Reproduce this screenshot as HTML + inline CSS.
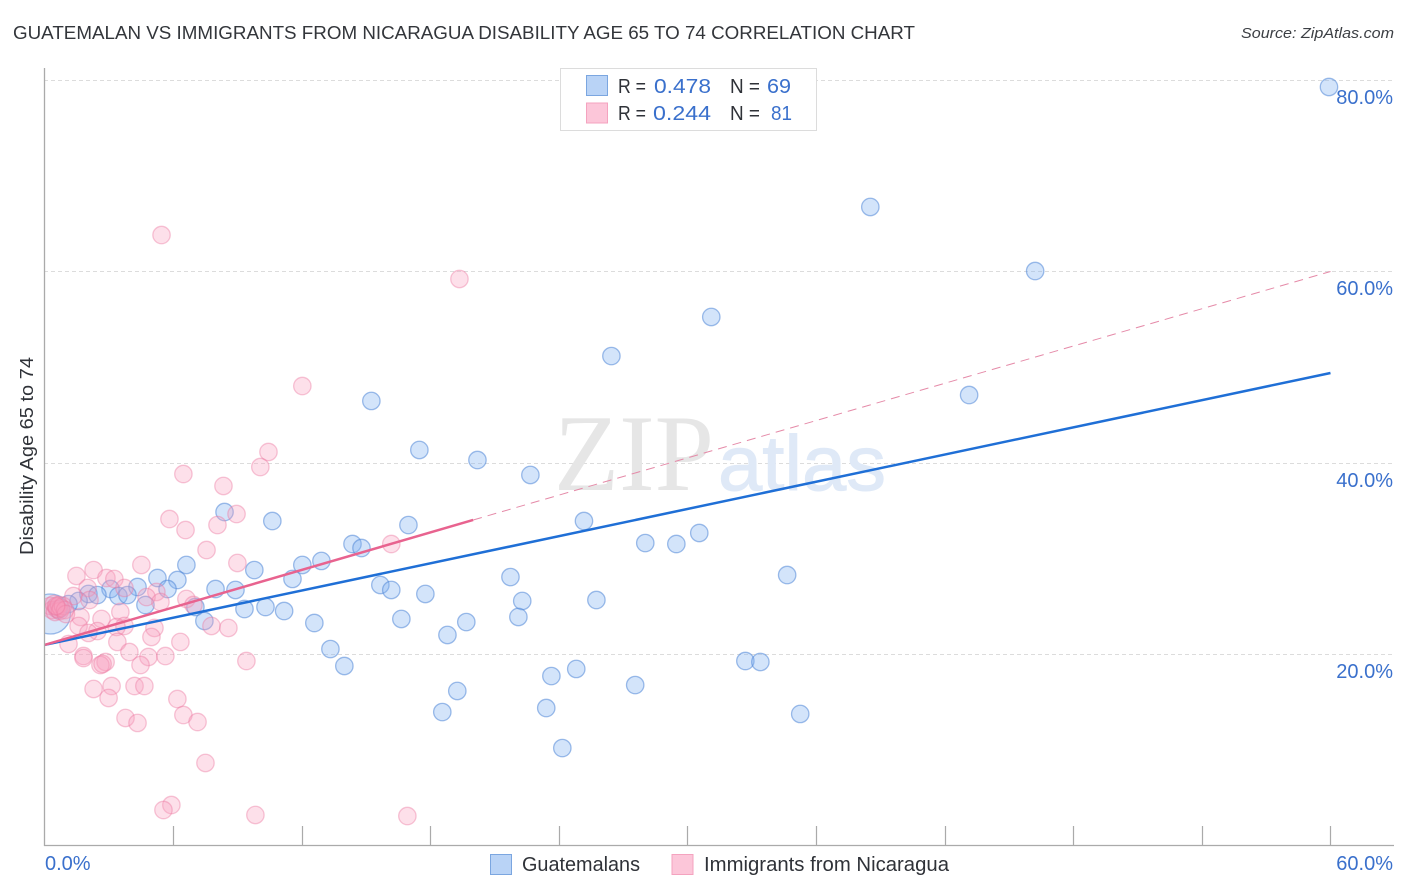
<!DOCTYPE html>
<html lang="en">
<head>
<meta charset="utf-8">
<title>Guatemalan vs Immigrants from Nicaragua Disability Age 65 to 74 Correlation Chart</title>
<style>
html,body{margin:0;padding:0;background:#fff;width:1406px;height:892px;overflow:hidden}
svg{display:block;font-family:"Liberation Sans",sans-serif}
</style>
</head>
<body>
<svg id="chart" xmlns="http://www.w3.org/2000/svg" width="1406" height="892" viewBox="0 0 1406 892">
  <defs><clipPath id="plot-clip"><rect x="45" y="60" width="1361" height="785"/></clipPath></defs>
  <rect x="0" y="0" width="1406" height="892" fill="#fff"/>
  <text x="13" y="39" font-size="18.5" fill="#33363b" textLength="902" lengthAdjust="spacingAndGlyphs">GUATEMALAN VS IMMIGRANTS FROM NICARAGUA DISABILITY AGE 65 TO 74 CORRELATION CHART</text>
  <text x="1241" y="38" font-size="15" font-style="italic" fill="#3c3f44" textLength="153" lengthAdjust="spacingAndGlyphs">Source: ZipAtlas.com</text>
  <g id="grid"></g>
  <g>
    <text x="554" y="490" font-family="'Liberation Serif',serif" font-size="109" fill="#e6e6e6" textLength="160" lengthAdjust="spacingAndGlyphs">ZIP</text>
    <text x="718" y="490" font-size="78" fill="#dfe9f7" stroke="#dfe9f7" stroke-width="1" textLength="168" lengthAdjust="spacingAndGlyphs">atlas</text>
  </g>
  <g id="blue-points" clip-path="url(#plot-clip)"></g>
  <g id="pink-points" clip-path="url(#plot-clip)"></g>
  <g id="trend-lines"></g>
  <g id="axes"></g>
  <text transform="translate(33,456) rotate(-90)" text-anchor="middle" font-size="18" fill="#2f3238" textLength="198" lengthAdjust="spacingAndGlyphs">Disability Age 65 to 74</text>
  <g id="tick-labels"></g>
  <g>
    <rect x="560.5" y="68.5" width="256" height="62" fill="#fff" stroke="#dcdcdc" stroke-width="1"/>
    <rect x="586.5" y="75.5" width="21" height="20" fill="#b9d3f6" stroke="#7ba6e0" stroke-width="1"/>
    <rect x="586.5" y="103" width="21" height="20" fill="#fcc6d9" stroke="#f4a3bf" stroke-width="1"/>
    <g font-size="20">
      <text x="618" y="93" fill="#2f3238" textLength="28" lengthAdjust="spacingAndGlyphs">R =</text>
      <text x="654" y="93" fill="#3a70cc" textLength="57" lengthAdjust="spacingAndGlyphs">0.478</text>
      <text x="730" y="93" fill="#2f3238" textLength="30" lengthAdjust="spacingAndGlyphs">N =</text>
      <text x="767" y="93" fill="#3a70cc" textLength="24" lengthAdjust="spacingAndGlyphs">69</text>
      <text x="618" y="120" fill="#2f3238" textLength="28" lengthAdjust="spacingAndGlyphs">R =</text>
      <text x="653" y="120" fill="#3a70cc" textLength="58" lengthAdjust="spacingAndGlyphs">0.244</text>
      <text x="730" y="120" fill="#2f3238" textLength="30" lengthAdjust="spacingAndGlyphs">N =</text>
      <text x="771" y="120" fill="#3a70cc" textLength="21" lengthAdjust="spacingAndGlyphs">81</text>
    </g>
  </g>
  <g>
    <rect x="490.5" y="854.5" width="21" height="20" fill="#b9d3f6" stroke="#7ba6e0" stroke-width="1"/>
    <text x="522" y="871" font-size="20" fill="#2f3238" textLength="118" lengthAdjust="spacingAndGlyphs">Guatemalans</text>
    <rect x="672" y="854.5" width="21" height="20" fill="#fcc6d9" stroke="#f4a3bf" stroke-width="1"/>
    <text x="704" y="871" font-size="20" fill="#2f3238" textLength="245" lengthAdjust="spacingAndGlyphs">Immigrants from Nicaragua</text>
  </g>
</svg>
<script>
const xTickValues = [0, 6, 12, 18, 24, 30, 36, 42, 48, 54, 60];
const yTickValues = [20, 40, 60, 80];
const yTickLabels = ["20.0%", "40.0%", "60.0%", "80.0%"];
const xEndLabels = ["0.0%", "60.0%"];

const blueX = [59.93,38.53,46.22,31.11,26.45,43.14,15.25,17.49,20.2,22.67,8.4,10.63,25.17,16.98,30.55,28.03,29.48,14.37,14.79,12.92,12.03,6.62,9.79,34.65,21.74,11.57,6.2,5.27,15.67,16.18,4.34,3.08,5.74,7.98,8.91,17.77,2.05,2.47,3.45,3.87,25.75,22.29,1.59,4.71,1.12,7.04,9.33,10.31,11.18,22.11,16.65,19.68,12.59,7.46,18.8,13.34,13.99,32.7,33.4,24.81,23.65,27.56,19.26,18.56,23.41,35.26,24.16,0.65];
const blueY = [79.27,66.74,60.05,55.25,51.17,47.1,46.48,41.36,40.31,38.75,34.88,33.94,33.94,33.52,32.69,31.64,31.54,31.54,31.12,29.77,29.35,29.35,28.82,28.3,28.09,27.89,27.78,27.99,27.26,26.74,27.05,26.84,26.84,26.84,26.74,26.32,26.32,26.21,26.11,26.21,25.69,25.59,25.59,25.17,25.27,24.96,24.75,24.96,24.54,23.92,23.71,23.39,23.29,23.5,22.04,20.57,18.8,19.32,19.22,18.49,17.75,16.81,16.19,13.99,14.41,13.79,10.23,24.7];
const blueLargeX = [0.28];
const blueLargeY = [24.23];

const pinkX = [5.46,19.36,12.03,10.45,10.07,6.48,8.35,8.96,5.83,8.07,6.58,16.18,7.56,9,4.52,2.29,1.49,2.89,3.26,2.01,3.73,5.22,4.76,1.35,6.62,6.95,5.41,2.1,3.54,1.68,2.66,1.59,3.73,3.36,2.47,2.05,7.79,8.58,5.13,4.99,3.4,6.34,1.12,1.82,1.82,3.96,4.85,5.64,4.48,2.85,2.61,2.71,9.42,2.29,3.13,4.2,4.66,2.99,6.2,3.78,4.34,6.48,7.14,7.51,5.92,5.55,9.84,16.93,0.26,0.35,0.44,0.49,0.58,0.58,0.68,0.72,0.77,0.86,0.96,1.0,0.54];
const pinkY = [63.81,59.22,48.04,41.15,39.58,38.85,37.6,34.67,34.15,33.52,33,31.54,30.91,29.56,29.35,28.82,28.2,27.99,27.89,26.95,26.95,26.53,26,26.11,25.8,25.17,25.48,25.69,24.44,23.92,23.71,22.98,22.98,22.87,22.45,22.25,22.98,22.77,22.77,21.83,21.31,21.31,21.1,19.84,19.63,20.26,19.74,19.84,18.9,19.22,18.9,19.01,19.32,16.4,16.71,16.71,16.71,15.46,15.35,13.37,12.85,13.68,12.95,8.67,4.28,3.76,3.24,3.13,25.07,24.65,25.27,24.44,24.96,24.75,25.17,24.54,24.86,25.07,24.65,24.23,25.07];

const blueTrendX = [0, 60];
const blueTrendY = [21, 49.4];
const pinkSolidX = [0, 20];
const pinkSolidY = [21, 34.05];
const pinkDashedX = [20, 60];
const pinkDashedY = [34.05, 60];

const NS = "http://www.w3.org/2000/svg";
function xScale(v) { return 44.5 + v * 21.433; }
function yScale(v) { return 846 - v * 9.575; }
function make(tag, attrs, parent) {
  const el = document.createElementNS(NS, tag);
  for (const k in attrs) el.setAttribute(k, attrs[k]);
  parent.appendChild(el);
  return el;
}
const grid = document.getElementById("grid");
const axes = document.getElementById("axes");
const tickLabels = document.getElementById("tick-labels");
const bluePoints = document.getElementById("blue-points");
const pinkPoints = document.getElementById("pink-points");
const trendLines = document.getElementById("trend-lines");

yTickValues.forEach(function (v, i) {
  const y = Math.floor(yScale(v)) + 0.5;
  const line = make("line", { x1: 44, x2: 1393, y1: y, y2: y, stroke: "#dcdcdc", "stroke-width": 1, "stroke-dasharray": "4 3" }, grid);
  
  
  const label = make("text", { x: 1393, y: y + 23.5, "text-anchor": "end", "font-size": 20, fill: "#3a70cc" }, tickLabels);
  
  
  label.textContent = yTickLabels[i];
});

const yAxis = make("line", { x1: 44.5, x2: 44.5, y1: 68, y2: 846, stroke: "#aaaaaa", "stroke-width": 1.3 }, axes);


const xAxis = make("line", { x1: 44, x2: 1394, y1: 845.5, y2: 845.5, stroke: "#aaaaaa", "stroke-width": 1.3 }, axes);



xTickValues.slice(1).forEach(function (v) {
  const x = Math.round(xScale(v)) + 0.5;
  const tick = make("line", { x1: x, x2: x, y1: 826, y2: 845, stroke: "#aaaaaa", "stroke-width": 1.2 }, axes);
  
  
});

const xLabelLeft = make("text", { x: 45, y: 870, "font-size": 20, fill: "#3a70cc" }, tickLabels);


xLabelLeft.textContent = xEndLabels[0];
const xLabelRight = make("text", { x: 1393, y: 870, "text-anchor": "end", "font-size": 20, fill: "#3a70cc" }, tickLabels);


xLabelRight.textContent = xEndLabels[1];

blueLargeX.forEach(function (v, i) {
  const c = make("circle", { cx: xScale(v), cy: yScale(blueLargeY[i]), r: 20, fill: "rgba(125,175,240,0.3)", stroke: "rgba(80,135,215,0.55)", "stroke-width": 1.3 }, bluePoints);
  
  
});
blueX.forEach(function (v, i) {
  const c = make("circle", { cx: xScale(v), cy: yScale(blueY[i]), r: 8.7, fill: "rgba(125,175,240,0.34)", stroke: "rgba(80,135,215,0.55)", "stroke-width": 1.3 }, bluePoints);
  
  
});
pinkX.forEach(function (v, i) {
  const c = make("circle", { cx: xScale(v), cy: yScale(pinkY[i]), r: 8.7, fill: "rgba(248,160,190,0.32)", stroke: "rgba(235,120,160,0.42)", "stroke-width": 1.3 }, pinkPoints);
  
  
});

const dashed = make("line", { x1: xScale(pinkDashedX[0]), y1: yScale(pinkDashedY[0]), x2: xScale(pinkDashedX[1]), y2: yScale(pinkDashedY[1]), stroke: "#e58aa8", "stroke-width": 1, "stroke-dasharray": "9 6" }, trendLines);


const blueLine = make("line", { x1: xScale(blueTrendX[0]), y1: yScale(blueTrendY[0]), x2: xScale(blueTrendX[1]), y2: yScale(blueTrendY[1]), stroke: "#1f6fd6", "stroke-width": 2.5 }, trendLines);


const pinkLine = make("line", { x1: xScale(pinkSolidX[0]), y1: yScale(pinkSolidY[0]), x2: xScale(pinkSolidX[1]), y2: yScale(pinkSolidY[1]), stroke: "#e8638f", "stroke-width": 2.5 }, trendLines);


</script>
</body>
</html>
